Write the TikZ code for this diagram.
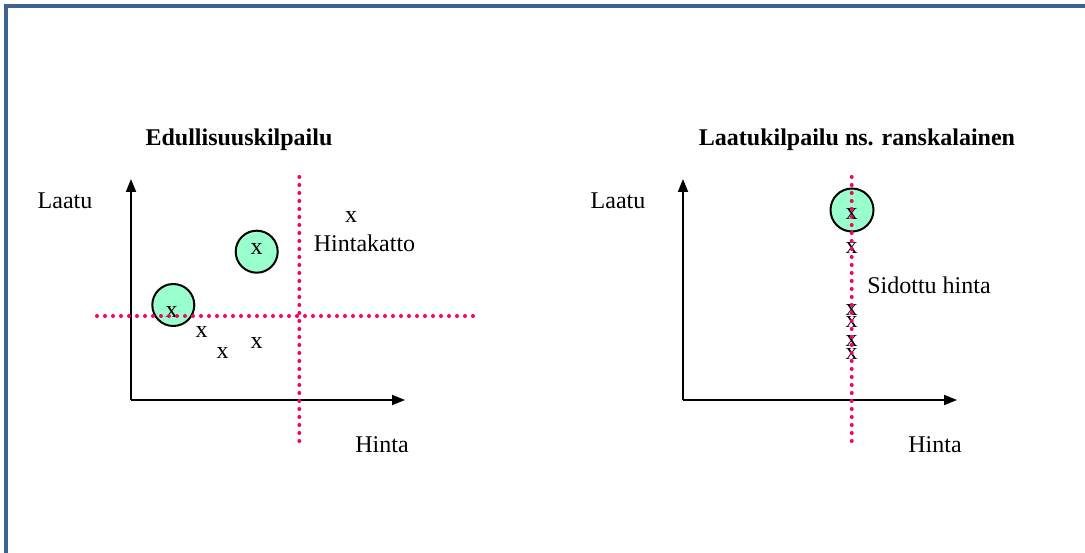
\documentclass[tikz,border=0pt]{standalone}
\usepackage{fontspec}
\setmainfont{Liberation Serif}
\usepackage{xcolor}
\usetikzlibrary{arrows.meta,positioning}

\definecolor{kehys}{RGB}{61,99,148}
\definecolor{rajaviiva}{RGB}{250,0,100}
\definecolor{minttu}{RGB}{153,255,204}

\begin{document}
\begin{tikzpicture}[x=1pt, y=-1pt,
    akseli/.style={-{Triangle[length=13pt,width=10pt]}, line width=2pt},
    raja/.style={rajaviiva, line width=4pt, line cap=round, dash pattern=on 0pt off 8pt},
    ympyra/.style={circle, draw, line width=2pt, fill=minttu, minimum size=42pt, inner sep=0pt},
    merkki/.style={inner sep=0pt, font=\fontsize{24}{28}\selectfont},
    teksti/.style={inner sep=0pt, anchor=base, font=\fontsize{24}{28}\selectfont},
    otsikko/.style={inner sep=0pt, anchor=base, font=\fontsize{24}{28}\selectfont\bfseries}]
    \useasboundingbox (0,0) rectangle (1085,553);

    % Frame (left and top edge only)
    \draw[kehys, line width=4pt] (5.5,553) -- (5.5,6.5) -- (1085,6.5);

    % Titles
    \node[otsikko] (ots1) at (239,146) {Edullisuuskilpailu};
    \node[otsikko] (ots2) at (857,146) {Laatukilpailu ns. ranskalainen};

    % Axes
    \coordinate (o1) at (131,400);
    \coordinate (y1) at (131,179);
    \coordinate (x1) at (405,400);
    \coordinate (o2) at (683,400);
    \coordinate (y2) at (683,179);
    \coordinate (x2) at (957,400);
    \draw[akseli] (o1) -- (y1);
    \draw[akseli] (o1) -- (x1);
    \draw[akseli] (o2) -- (y2);
    \draw[akseli] (o2) -- (x2);
    \node[teksti] (laatu1) at (65,209) {Laatu};
    \node[teksti] (hinta1) at (382,452) {Hinta};
    \node[teksti] (laatu2) at (618,209) {Laatu};
    \node[teksti] (hinta2) at (935,452) {Hinta};

    % Circled firms
    \node[ympyra] (ymp1) at (173.3,305) {};
    \node[ympyra] (ymp2) at (256.7,251.7) {};
    \node[ympyra, minimum size=43pt] (ymp3) at (852,210) {};

    % Firms, left chart
    \node[merkki] (a1) at (171.7,311.7) {x};
    \node[merkki] (a2) at (201.7,331.5) {x};
    \node[merkki] (a3) at (222.5,352.5) {x};
    \node[merkki] (a4) at (256.7,343) {x};
    \node[merkki] (a5) at (256.5,248.5) {x};
    \node[merkki] (a6) at (351,216.7) {x};
    \node[teksti] (katto) at (364.5,252) {Hintakatto};

    % Firms, right chart (all on the fixed price)
    \foreach \n/\yy in {1/213.5, 2/248, 3/310, 4/322, 5/341, 6/354}
        \node[merkki] (b\n) at (851.5,\yy) {x};
    \node[teksti] (sidottu) at (929,294) {Sidottu hinta};

    % Price ceiling and fixed price
    \coordinate (k1) at (299.3,177);
    \coordinate (k2) at (299.3,442);
    \coordinate (k3) at (97,316);
    \coordinate (k4) at (473,316);
    \coordinate (s1) at (851.7,177);
    \coordinate (s2) at (851.7,442);
    \draw[raja] (k1) -- (k2);
    \draw[raja] (k3) -- (k4);
    \draw[raja] (s1) -- (s2);
\end{tikzpicture}
\end{document}
